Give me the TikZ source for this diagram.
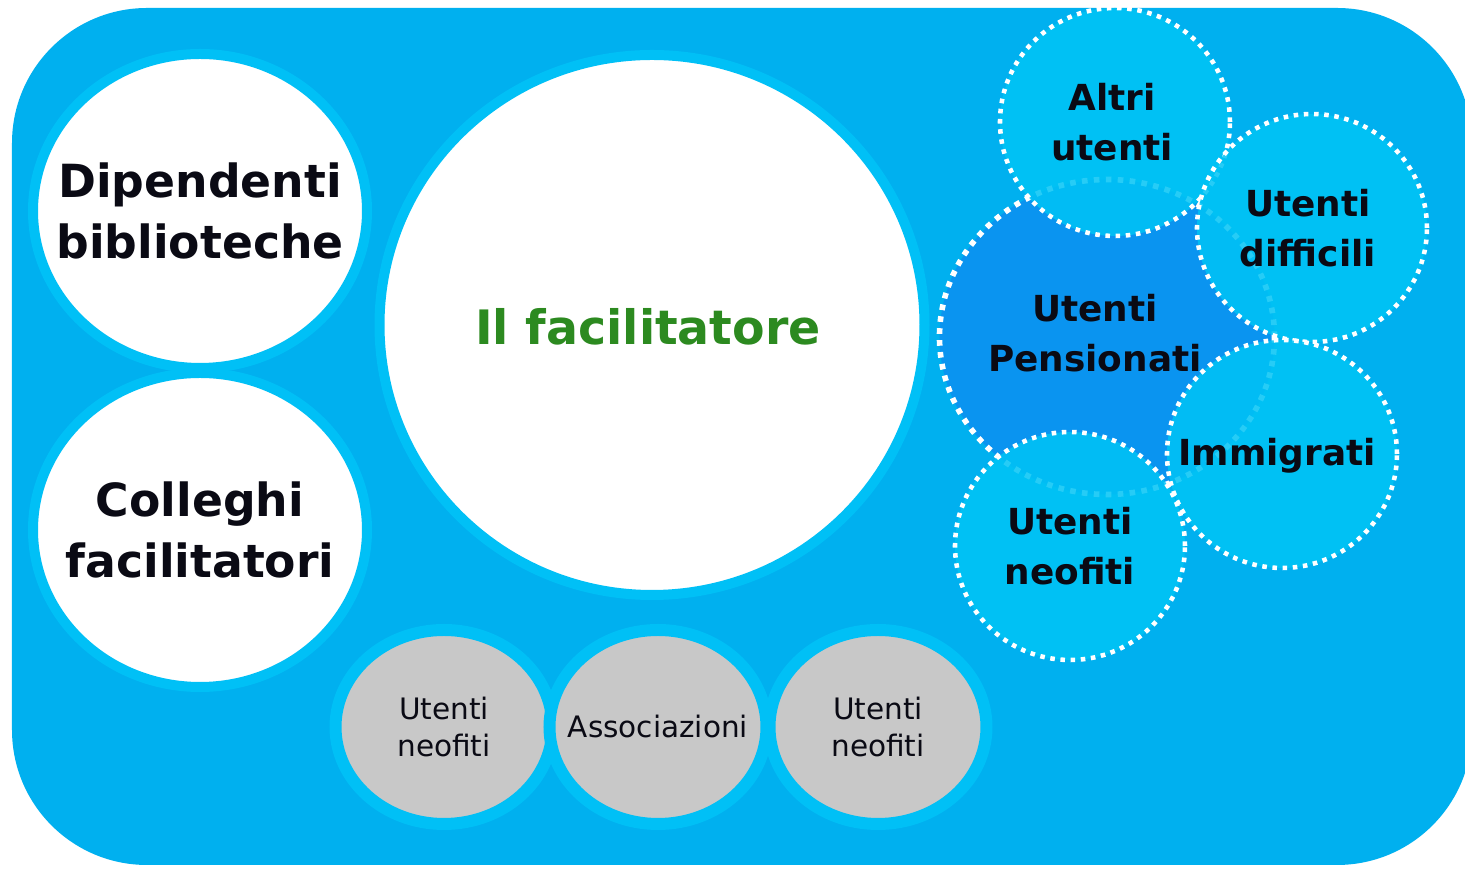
\documentclass[tikz,border=0pt]{standalone}
\usepackage{fontspec}
\setmainfont{DejaVu Sans}
\usetikzlibrary{shapes.geometric}

\definecolor{panelblue}{HTML}{00B0EF}
\definecolor{ringblue}{HTML}{00C0F6}
\definecolor{userblue}{HTML}{00C4F5}
\definecolor{pensionblue}{HTML}{0A94F0}
\definecolor{bubblegrey}{HTML}{C8C8C8}
\definecolor{facilgreen}{HTML}{2C8A20}
\definecolor{labelblack}{HTML}{0A0A14}

\begin{document}
\begin{tikzpicture}[
    bubble/.style={ellipse, inner sep=0pt},
    whitebubble/.style={bubble, fill=white, draw=ringblue, line width=0.1cm},
    greybubble/.style={bubble, fill=bubblegrey, draw=ringblue, line width=0.12cm,
        minimum width=2.17cm, minimum height=1.94cm},
    userbubble/.style={bubble, fill=userblue, fill opacity=0.85, draw=white, draw opacity=1,
        line width=1.3pt, dash pattern=on 1.3pt off 1.6pt,
        minimum width=2.30cm, minimum height=2.28cm},
    bigtext/.style={align=center, text=labelblack, font=\bfseries\fontsize{13}{17.6}\selectfont},
    usertext/.style={align=center, text=labelblack, font=\bfseries\fontsize{10.2}{14.2}\selectfont},
    greytext/.style={align=center, text=labelblack, font=\fontsize{8.4}{10.5}\selectfont}
]
    \useasboundingbox (0,0) rectangle (14.65,8.69);
    \fill[white] (0,0) rectangle (14.65,8.69);
    \fill[panelblue, rounded corners=1.35cm] (0.12,0.04) rectangle (14.72,8.61);

    % left and central bubbles
    \node[whitebubble, minimum width=3.34cm, minimum height=3.14cm] (dipendenti) at (2.00,6.58) {};
    \node[whitebubble, minimum width=3.34cm, minimum height=3.14cm] (colleghi) at (2.00,3.39) {};
    \node[whitebubble, minimum width=5.45cm, minimum height=5.40cm] (facilitatore) at (6.52,5.44) {};

    % bottom row
    \node[greybubble] (neofitiA) at (4.44,1.42) {};
    \node[greybubble] (associazioni) at (6.58,1.42) {};
    \node[greybubble] (neofitiB) at (8.78,1.42) {};

    % users cluster
    \node[bubble, fill=pensionblue, draw=white, line width=1.6pt, dash pattern=on 1.6pt off 1.8pt,
        minimum width=3.35cm, minimum height=3.15cm] (pensionati) at (11.07,5.32) {};
    \node[userbubble] (altri) at (11.15,7.47) {};
    \node[userbubble] (difficili) at (13.12,6.41) {};
    \node[userbubble] (immigrati) at (12.82,4.15) {};
    \node[userbubble] (neofitiC) at (10.70,3.23) {};

    % labels
    \node[bigtext] (dipendentiT) at (dipendenti) {Dipendenti\\biblioteche};
    \node[bigtext] (collegheT) at (colleghi) {Colleghi\\facilitatori};
    \node[bigtext, text=facilgreen, font=\bfseries\fontsize{13.5}{16}\selectfont] (facilitatoreT) at (6.48,5.42) {Il facilitatore};
    \node[greytext] (neofitiAT) at (neofitiA) {Utenti\\neofiti};
    \node[greytext] (associazioniT) at (associazioni) {Associazioni};
    \node[greytext] (neofitiBT) at (neofitiB) {Utenti\\neofiti};
    \node[usertext] (altriT) at (11.12,7.47) {Altri\\utenti};
    \node[usertext] (difficiliT) at (13.08,6.41) {Utenti\\difficili};
    \node[usertext] (pensionatiT) at (10.95,5.36) {Utenti\\Pensionati};
    \node[usertext] (immigratiT) at (12.77,4.13) {Immigrati};
    \node[usertext] (neofitiCT) at (neofitiC) {Utenti\\neofiti};
\end{tikzpicture}
\end{document}
